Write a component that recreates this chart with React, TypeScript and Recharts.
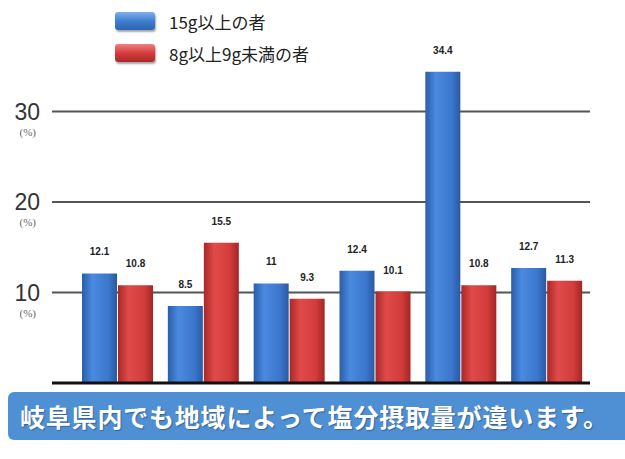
import {
  BarChart,
  Bar,
  XAxis,
  YAxis,
  CartesianGrid,
  LabelList,
  ReferenceLine,
} from "recharts";

const regions = ["A", "B", "C", "D", "E", "F"];
const over15g = [12.1, 8.5, 11, 12.4, 34.4, 12.7];
const from8to9g = [10.8, 15.5, 9.3, 10.1, 10.8, 11.3];
const yTicks = [10, 20, 30];

const SERIES_NAMES = ["15g以上の者", "8g以上9g未満の者"];

const data = regions.map((r, i) => ({
  region: r,
  over15g: over15g[i],
  from8to9g: from8to9g[i],
}));

// 目盛り: 数字の下に小さく (%)
const renderTick = (props: any) => {
  const { x, y, payload } = props;
  return (
    <g>
      <text
        x={x - 4}
        y={y + 8}
        textAnchor="end"
        fontSize={23}
        fill="#333"
        fontFamily="Liberation Sans, sans-serif"
      >
        {payload.value}
      </text>
      <text
        x={x - 8}
        y={y + 24}
        textAnchor="end"
        fontSize={11}
        fill="#666"
        fontFamily="Liberation Serif, serif"
      >
        (%)
      </text>
    </g>
  );
};

const labelProps = {
  position: "top" as const,
  offset: 18,
  fontSize: 10,
  fontWeight: "bold",
  fill: "#222",
  fontFamily: "Liberation Sans Narrow, Liberation Sans, sans-serif",
};

export default function App() {
  return (
    <div style={{ position: "absolute", left: 0, top: 0, width: 625, height: 459, background: "#fff" }}>
      <BarChart
        width={625}
        height={459}
        data={data}
        margin={{ top: 21, right: 35, bottom: 76, left: 0 }}
        barSize={35}
        barGap={1}
      >
        <defs>
          <linearGradient id="blueBar" x1="0" y1="0" x2="1" y2="0">
            <stop offset="0%" stopColor="#2a5ea8" />
            <stop offset="30%" stopColor="#4a8ae0" />
            <stop offset="75%" stopColor="#3b77cc" />
            <stop offset="100%" stopColor="#2a5aa2" />
          </linearGradient>
          <linearGradient id="redBar" x1="0" y1="0" x2="1" y2="0">
            <stop offset="0%" stopColor="#a82828" />
            <stop offset="30%" stopColor="#e04a48" />
            <stop offset="75%" stopColor="#d23c3a" />
            <stop offset="100%" stopColor="#a22626" />
          </linearGradient>
        </defs>
        <CartesianGrid
          vertical={false}
          horizontalValues={yTicks}
          stroke="#555"
          strokeWidth={2}
        />
        <XAxis dataKey="region" hide padding={{ left: 23, right: 0 }} />
        <YAxis
          domain={[0, 40]}
          ticks={yTicks}
          width={52}
          axisLine={false}
          tickLine={false}
          tick={renderTick}
        />
        <Bar dataKey="over15g" name={SERIES_NAMES[0]} fill="url(#blueBar)" isAnimationActive={false}>
          <LabelList dataKey="over15g" {...labelProps} />
        </Bar>
        <Bar dataKey="from8to9g" name={SERIES_NAMES[1]} fill="url(#redBar)" isAnimationActive={false}>
          <LabelList dataKey="from8to9g" {...labelProps} />
        </Bar>
        <ReferenceLine y={0} stroke="#111" strokeWidth={3} />
      </BarChart>

      {/* 凡例 */}
      <div
        style={{
          position: "absolute",
          left: 115,
          top: 5,
          fontFamily: "Noto Sans CJK JP, sans-serif",
          fontSize: 17,
          color: "#222",
        }}
      >
        {SERIES_NAMES.map((name, i) => (
          <div key={name} style={{ display: "flex", alignItems: "center", height: 32 }}>
            <span
              style={{
                display: "inline-block",
                width: 40,
                height: 18,
                borderRadius: 3,
                marginRight: 14,
                backgroundImage:
                  i === 0
                    ? "linear-gradient(#7fb0ee, #3f7fd0 50%, #2d64b0)"
                    : "linear-gradient(#f08080, #d63c3c 50%, #a82a2a)",
                boxShadow: "1px 2px 2px rgba(0,0,0,0.35)",
              }}
            />
            {name}
          </div>
        ))}
      </div>

      <div
        style={{
          position: "absolute",
          left: 8,
          top: 392,
          width: 640,
          height: 48,
          borderRadius: 6,
          background: "#4f8fd4",
          color: "#fff",
          fontFamily: "Noto Sans CJK JP, sans-serif",
          fontWeight: "bold",
          fontSize: 25,
          letterSpacing: 0.8,
          lineHeight: "48px",
          paddingLeft: 12,
          boxSizing: "border-box",
          textShadow: "1px 1px 1px rgba(0,0,0,0.3)",
          whiteSpace: "nowrap",
        }}
      >
        岐阜県内でも地域によって塩分摂取量が違います。
      </div>
    </div>
  );
}
